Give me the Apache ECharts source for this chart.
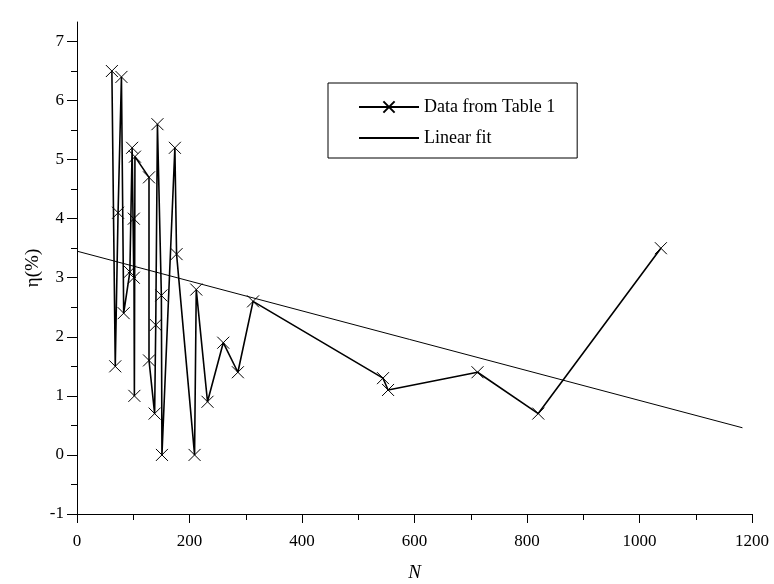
<!DOCTYPE html>
<html>
<head>
<meta charset="utf-8">
<script src="https://cdn.jsdelivr.net/npm/echarts@6/dist/echarts.min.js"></script>
<style>
html,body{margin:0;padding:0;background:#fff;}
#chart{width:774px;height:584px;}
</style>
</head>
<body>
<div id="chart"></div>
<script>
// Data
const N   = [62, 68, 73, 79, 83, 94, 98, 101, 101, 102, 103, 128, 128, 138, 140, 143, 150, 151, 174, 177, 209, 212, 232, 260, 286, 313, 544, 553, 712, 820, 1038];
const eta = [6.5, 1.5, 4.1, 6.4, 2.4, 3.1, 5.2, 3.0, 4.0, 1.0, 5.05, 4.7, 1.6, 0.7, 2.2, 5.6, 2.7, 0, 5.2, 3.4, 0, 2.8, 0.9, 1.9, 1.4, 2.6, 1.3, 1.1, 1.4, 0.7, 3.5];
const fitN   = [0, 1183];
const fitEta = [3.45, 0.46];
const xTicks = [0, 200, 400, 600, 800, 1000, 1200];
const yTicks = [-1, 0, 1, 2, 3, 4, 5, 6, 7];
const yMinorTicks = [-0.5, 0.5, 1.5, 2.5, 3.5, 4.5, 5.5, 6.5];
const seriesNames = ['Data from Table 1', 'Linear fit'];

const FONT = '"Liberation Serif", "Times New Roman", serif';
const chart = echarts.init(document.getElementById('chart'));
const xMark = 'path://M0,0L10,10M10,0L0,10';

const option = {
  animation: false,
  backgroundColor: '#fff',
  grid: { left: 77, right: 22, top: 22, bottom: 70, containLabel: false, outerBoundsMode: 'none' },
  legend: {
    orient: 'vertical',
    left: 328, top: 83,
    padding: [15, 22, 11, 30],
    itemGap: 13,
    itemWidth: 60, itemHeight: 14,
    borderColor: '#000', borderWidth: 1,
    textStyle: { fontFamily: FONT, fontSize: 18, color: '#000' },
    data: [
      { name: seriesNames[0] },
      { name: seriesNames[1], itemStyle: { color: 'rgba(0,0,0,0)', borderWidth: 0, opacity: 0 } }
    ]
  },
  xAxis: {
    type: 'value',
    min: xTicks[0], max: xTicks[xTicks.length - 1], interval: 200,
    name: 'N', nameLocation: 'middle', nameGap: 49, nameMoveOverlap: false,
    nameTextStyle: { fontFamily: FONT, fontSize: 19, fontStyle: 'italic', color: '#000' },
    axisLine: { show: true, onZero: false, lineStyle: { color: '#000', width: 1 } },
    axisTick: { show: true, inside: false, length: 9, lineStyle: { color: '#000', width: 1 } },
    minorTick: { show: true, splitNumber: 2, length: 6, lineStyle: { color: '#000', width: 1 } },
    axisLabel: { margin: 19, fontFamily: FONT, fontSize: 17, color: '#000', formatter: v => String(v) },
    splitLine: { show: false }
  },
  yAxis: [
    {
      type: 'value',
      min: -1, max: 7.33,
      position: 'left',
      name: 'η(%)', nameLocation: 'middle', nameGap: 34, nameRotate: 90, nameMoveOverlap: false,
      nameTextStyle: { fontFamily: FONT, fontSize: 19, color: '#000' },
      axisLine: { show: true, onZero: false, lineStyle: { color: '#000', width: 1 } },
      axisTick: { show: true, inside: false, length: 10, customValues: yTicks, lineStyle: { color: '#000', width: 1 } },
      axisLabel: { margin: 13, fontFamily: FONT, fontSize: 17, color: '#000', customValues: yTicks },
      splitLine: { show: false }
    },
    {
      type: 'value',
      min: -1, max: 7.33,
      position: 'left',
      axisLine: { show: false, onZero: false },
      axisTick: { show: true, inside: false, length: 6, customValues: yMinorTicks, lineStyle: { color: '#000', width: 1 } },
      axisLabel: { show: false },
      splitLine: { show: false }
    }
  ],
  series: [
    {
      name: seriesNames[0],
      type: 'line',
      xAxisIndex: 0, yAxisIndex: 0,
      data: N.map((n, i) => [n, eta[i]]),
      showAllSymbol: true,
      symbol: xMark,
      symbolSize: 12,
      itemStyle: { color: 'rgba(0,0,0,0)', borderColor: '#000', borderWidth: 1 },
      lineStyle: { color: '#000', width: 1.6 },
      emphasis: { disabled: true },
      z: 3
    },
    {
      name: seriesNames[1],
      type: 'line',
      xAxisIndex: 0, yAxisIndex: 0,
      data: fitN.map((n, i) => [n, fitEta[i]]),
      symbol: 'none',
      itemStyle: { color: '#000' },
      lineStyle: { color: '#000', width: 1 },
      emphasis: { disabled: true },
      z: 2
    }
  ]
};
chart.setOption(option);
</script>
</body>
</html>
